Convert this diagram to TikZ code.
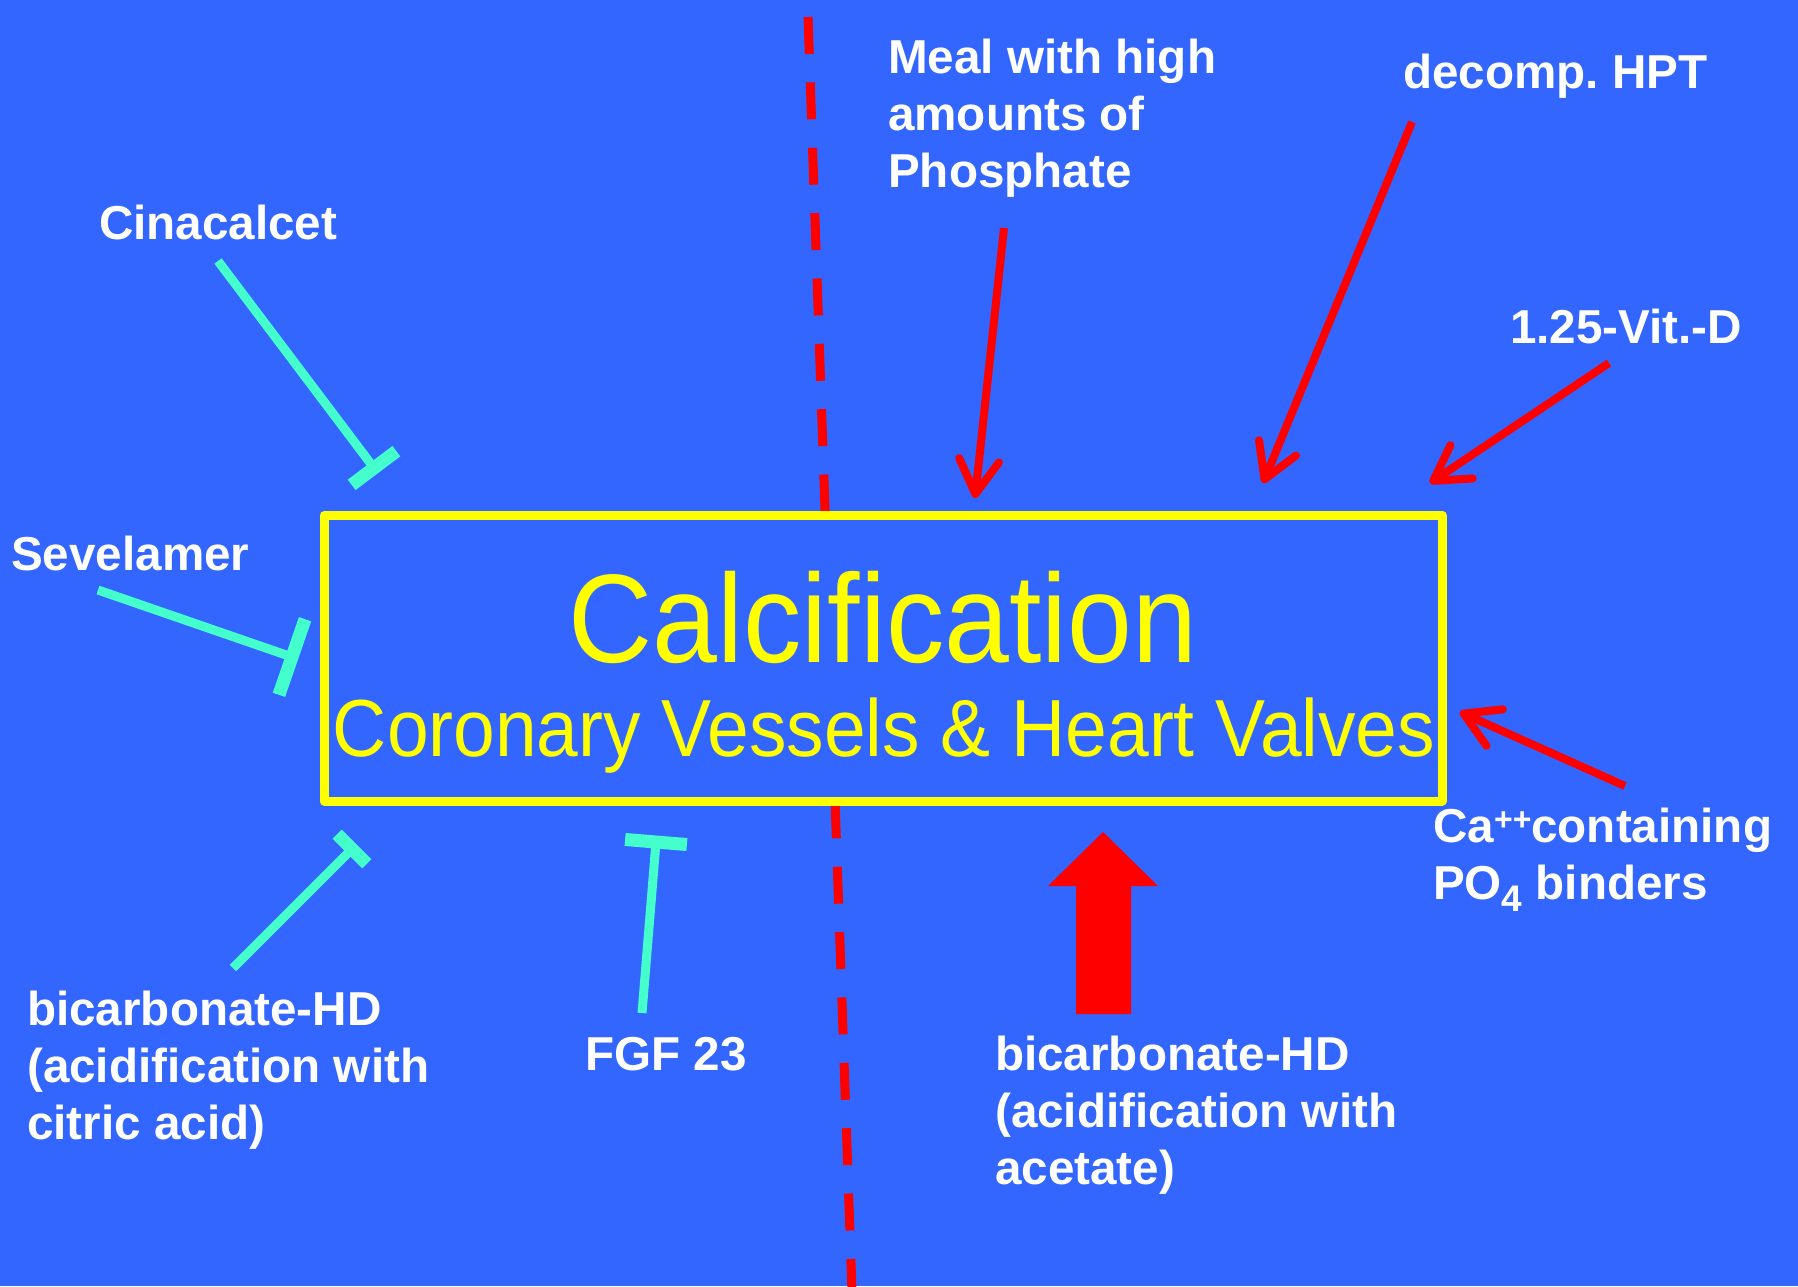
\documentclass[tikz,border=0pt]{standalone}
\usepackage{fontspec}
\setmainfont{Liberation Sans}
\newfontfamily\yfont[FakeStretch=0.925]{Liberation Sans}
\usetikzlibrary{arrows.meta,calc}
\definecolor{bg}{HTML}{3366FF}
\definecolor{tealc}{HTML}{44FFCC}
\definecolor{yelc}{HTML}{FFFF00}
\definecolor{redc}{HTML}{FF0000}
\frenchspacing
\newcommand\mlines[1]{\begin{tabular}[t]{@{}l@{}}#1\end{tabular}}
\newcommand\inhib[3]{%
  \draw[inhline] (#1) -- (#2);
  \draw[inhbar] ($(#2)!#3!90:(#1)$) -- ($(#2)!#3!-90:(#1)$);}
\begin{document}
\begin{tikzpicture}[x=1pt,y=-1pt,
  lbl/.style={text=white,font=\fontsize{47.6}{57}\selectfont\bfseries,inner sep=0pt,anchor=base west},
  ytext/.style={text=yelc,inner sep=0pt,anchor=base},
  rarr/.style={draw=redc,line width=8pt,-{Straight Barb[length=34pt,width=40pt,line width=8pt,round]}},
  inhline/.style={draw=tealc,line width=9pt},
  inhbar/.style={draw=tealc,line width=13pt},
  dashline/.style={draw=redc,line width=9pt,dash pattern=on 37pt off 28.4pt}]
\fill[bg] (0,0) rectangle (1798,1286);
\useasboundingbox (0,0) rectangle (1798,1286);

% dashed divider
\coordinate (dtop) at (808,17);
\coordinate (dbot) at (852,1292);
\draw[dashline] (dtop) -- (dbot);

% central box
\node[draw=yelc,line width=9pt,fill=bg,minimum width=1118pt,minimum height=286pt,inner sep=0pt,line join=round] (box) at (883,658) {};
\node[ytext,font=\yfont\fontsize{126}{126}\selectfont] (calc) at (883,662) {Calcification};
\node[ytext,font=\yfont\fontsize{81}{81}\selectfont] (cor) at (884,756) {Coronary Vessels \& Heart Valves};

% labels
\node[lbl] (meal) at (888,73) {\mlines{Meal with high\\amounts of\\Phosphate}};
\node[lbl] (hpt) at (1403,88) {decomp.\ HPT};
\node[lbl] (vitd) at (1510,343) {1.25-Vit.-D};
\node[lbl] (cinac) at (99,239) {Cinacalcet};
\node[lbl] (sevel) at (11,570) {Sevelamer};
\node[lbl] (caplus) at (1433,842) {\mlines{Ca{\fontsize{32}{32}\selectfont\raisebox{12pt}{++}}containing\\PO{\fontsize{37}{37}\selectfont\raisebox{-12pt}{4}} binders}};
\node[lbl] (citric) at (27,1025) {\mlines{bicarbonate-HD\\(acidification with\\citric acid)}};
\node[lbl] (fgf) at (585,1070) {FGF 23};
\node[lbl] (acet) at (995,1070) {\mlines{bicarbonate-HD\\(acidification with\\acetate)}};

% red arrows
\coordinate (mealS) at (1004,228);  \coordinate (mealE) at (975,498);
\coordinate (hptS) at (1412,122);   \coordinate (hptE) at (1263,483);
\coordinate (vitS) at (1609,363);   \coordinate (vitE) at (1430,483);
\coordinate (caS) at (1625,786);    \coordinate (caE) at (1460,712);
\draw[rarr] (mealS) -- (mealE);
\draw[rarr] (hptS) -- (hptE);
\draw[rarr] (vitS) -- (vitE);
\draw[rarr] (caS) -- (caE);

% big block arrow
\fill[redc] (1103,832) -- (1158,886) -- (1131,886) -- (1131,1014) -- (1076,1014) -- (1076,886) -- (1048,886) -- cycle;

% inhibitors
\coordinate (cinS) at (218,261);  \coordinate (cinE) at (374,468);
\coordinate (sevS) at (98,590);   \coordinate (sevE) at (292,657);
\coordinate (citS) at (233,968);  \coordinate (citE) at (352,849);
\coordinate (fgfS) at (642,1013); \coordinate (fgfE) at (656,842);
\inhib{cinS}{cinE}{28pt}
\inhib{sevS}{sevE}{40pt}
\inhib{citS}{citE}{21pt}
\inhib{fgfS}{fgfE}{31pt}
\end{tikzpicture}
\end{document}
